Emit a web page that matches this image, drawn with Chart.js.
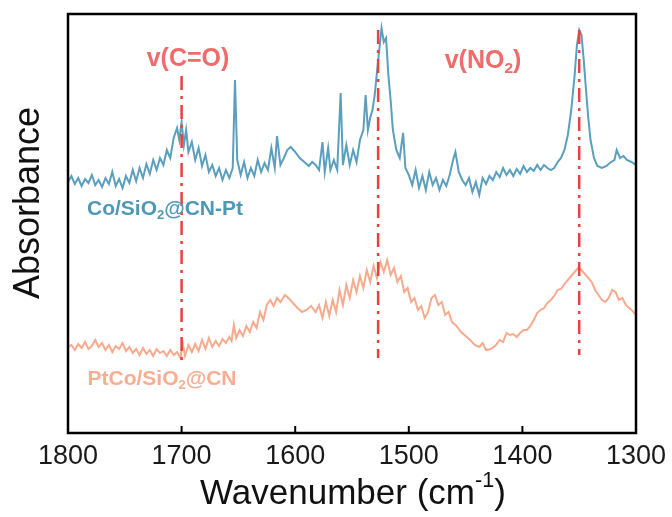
<!DOCTYPE html>
<html>
<head>
<meta charset="utf-8">
<script src="https://cdn.jsdelivr.net/npm/chart.js@4.4.1/dist/chart.umd.min.js"></script>
<style>
  html, body { margin: 0; padding: 0; background: #fff; }
  #wrap { width: 672px; height: 517px; }
</style>
</head>
<body>
<div id="wrap"><canvas id="irChart" width="672" height="517"></canvas></div>
<script>
// Co/SiO2@CN-Pt spectrum (wavenumber, absorbance a.u.)
const cnPtWn = [1800, 1797, 1794, 1791, 1788, 1785, 1782, 1779, 1776, 1773, 1770, 1767, 1764, 1761, 1758, 1755, 1752, 1749, 1746, 1743,
    1740, 1737, 1734, 1731, 1728, 1725, 1722, 1719, 1716, 1713, 1710, 1707, 1704, 1702, 1700, 1698, 1696, 1694, 1691, 1688,
    1685, 1682, 1679, 1676, 1673, 1670, 1667, 1664, 1661, 1658, 1655, 1653, 1651, 1648, 1645, 1642, 1639, 1636, 1633, 1630,
    1627, 1624, 1621, 1618, 1616, 1613, 1610, 1607, 1604, 1600, 1596, 1592, 1588, 1585, 1582, 1579, 1576, 1574, 1571, 1569,
    1566, 1563, 1560, 1558, 1555, 1552, 1549, 1546, 1543, 1540, 1538, 1536, 1534, 1532, 1530, 1528, 1526, 1524, 1522, 1520,
    1518, 1516, 1514, 1511, 1508, 1505, 1503, 1500, 1497, 1494, 1491, 1488, 1485, 1482, 1479, 1476, 1473, 1470, 1467, 1464,
    1461, 1459, 1456, 1453, 1450, 1447, 1444, 1441, 1438, 1435, 1432, 1429, 1426, 1423, 1420, 1417, 1414, 1411, 1408, 1405,
    1402, 1399, 1396, 1393, 1390, 1387, 1384, 1381, 1378, 1375, 1372, 1369, 1366, 1363, 1360, 1357, 1354, 1352, 1350, 1348,
    1346, 1344, 1342, 1340, 1337, 1334, 1330, 1326, 1322, 1319, 1317, 1314, 1311, 1308, 1304, 1300];
const cnPtAbs = [251, 257, 249, 255, 247, 254, 250, 258, 248, 253, 246, 255, 249, 261, 247, 254, 245, 257, 250, 263,
    252, 265, 255, 269, 259, 273, 263, 275, 268, 283, 275, 295, 305, 293, 311, 288, 303, 281, 291, 273,
    285, 267, 278, 261, 268, 257, 265, 253, 263, 255, 265, 353, 273, 258, 271, 255, 265, 257, 273, 261,
    270, 263, 285, 265, 297, 268, 275, 283, 286, 281, 275, 271, 267, 271, 268, 263, 291, 261, 285, 263,
    273, 263, 340, 268, 288, 268, 283, 271, 293, 303, 338, 303, 315, 323, 338, 361, 383, 405, 391, 395,
    358, 333, 303, 283, 275, 300, 265, 258, 248, 263, 245, 257, 243, 261, 248, 255, 243, 253, 247, 258,
    273, 281, 261, 253, 248, 255, 241, 251, 238, 255, 249, 257, 253, 261, 256, 265, 258, 263, 257, 264,
    259, 267, 261, 265, 262, 268, 263, 268, 265, 263, 265, 271, 275, 283, 298, 323, 358, 388, 403, 398,
    373, 343, 315, 293, 275, 267, 265, 267, 271, 273, 283, 275, 277, 273, 271, 268];

// PtCo/SiO2@CN spectrum
const ptCoWn = [1800, 1797, 1794, 1791, 1788, 1785, 1782, 1779, 1776, 1773, 1770, 1767, 1764, 1761, 1758, 1755, 1752, 1749, 1746, 1743,
    1740, 1737, 1734, 1731, 1728, 1725, 1722, 1719, 1716, 1713, 1710, 1707, 1704, 1701, 1699, 1697, 1694, 1691, 1688, 1685,
    1682, 1679, 1676, 1673, 1670, 1667, 1664, 1661, 1658, 1656, 1654, 1652, 1649, 1646, 1643, 1640, 1637, 1634, 1631, 1628,
    1625, 1622, 1619, 1616, 1613, 1609, 1606, 1602, 1598, 1594, 1590, 1586, 1582, 1579, 1576, 1573, 1570, 1567, 1564, 1561,
    1558, 1555, 1552, 1549, 1546, 1543, 1540, 1537, 1534, 1531, 1528, 1525, 1522, 1519, 1516, 1513, 1510, 1507, 1504, 1501,
    1498, 1495, 1492, 1489, 1486, 1483, 1480, 1477, 1474, 1471, 1468, 1465, 1462, 1458, 1454, 1450, 1446, 1442, 1438, 1435,
    1432, 1428, 1424, 1420, 1417, 1414, 1411, 1408, 1405, 1402, 1399, 1396, 1393, 1390, 1387, 1384, 1381, 1378, 1375, 1372,
    1369, 1366, 1363, 1360, 1357, 1354, 1351, 1348, 1345, 1342, 1339, 1336, 1333, 1330, 1327, 1324, 1321, 1318, 1315, 1312,
    1309, 1306, 1303, 1300];
const ptCoAbs = [86, 88, 83, 89, 85, 91, 84, 87, 93, 86, 90, 83, 88, 81, 87, 84, 90, 82, 86, 80,
    84, 78, 85, 79, 83, 77, 84, 80, 82, 77, 83, 78, 81, 75, 90, 77, 88, 81, 89, 82,
    93, 84, 95, 86, 92, 87, 94, 90, 96, 92, 108, 95, 103, 97, 107, 101, 111, 105, 121, 113,
    128, 133, 127, 135, 131, 138, 135, 130, 125, 121, 123, 127, 121, 128, 115, 131, 117, 133, 121, 143,
    128, 148, 135, 153, 141, 157, 145, 163, 151, 167, 155, 171, 161, 173, 158, 165, 151, 157, 141, 145,
    131, 135, 123, 127, 115, 121, 135, 138, 128, 131, 118, 121, 111, 107, 101, 97, 93, 88, 86, 90,
    83, 84, 87, 93, 91, 100, 98, 99, 96, 100, 103, 103, 107, 113, 120, 123, 125, 130, 133, 137,
    143, 144, 149, 153, 157, 161, 165, 163, 159, 155, 151, 143, 138, 133, 131, 135, 143, 141, 133, 135,
    128, 125, 122, 118];

// band markers: position and vertical extent
const bandPos = [1700, 1527, 1350];
const bandTop = [357, 403, 403];
const bandBottom = [70, 75, 78];

const xTickValues = [1800, 1700, 1600, 1500, 1400, 1300];

const FONT = '"Liberation Sans", Arial, sans-serif';
const BLUE = '#5a9fbd';
const ORANGE = '#f7ab8e';
const RED = '#e8413f';

function toPoints(xs, ys) {
    return xs.map(function (x, i) { return { x: x, y: ys[i] }; });
}

// draws a string made of normal / sub / sup pieces, centred on x
function drawRich(ctx, parts, x, y, size, weight, color) {
    ctx.save();
    ctx.fillStyle = color;
    ctx.textBaseline = 'middle';
    ctx.textAlign = 'left';
    const widths = parts.map(function (p) {
        const s = p.sub || p.sup ? size * 0.62 : size;
        ctx.font = weight + ' ' + s + 'px ' + FONT;
        return ctx.measureText(p.t).width;
    });
    let cx = x - widths.reduce(function (a, b) { return a + b; }, 0) / 2;
    parts.forEach(function (p, i) {
        const s = p.sub || p.sup ? size * 0.62 : size;
        ctx.font = weight + ' ' + s + 'px ' + FONT;
        let dy = 0;
        if (p.sub) dy = size * 0.32;
        if (p.sup) dy = -size * 0.36;
        ctx.fillText(p.t, cx, y + dy);
        cx += widths[i];
    });
    ctx.restore();
}

const framePlugin = {
    id: 'frame',
    afterDraw: function (chart) {
        const ctx = chart.ctx;
        const a = chart.chartArea;
        const xs = chart.scales.x;

        ctx.save();
        ctx.strokeStyle = '#000';
        ctx.lineWidth = 2.5;
        ctx.strokeRect(a.left, a.top, a.right - a.left, a.bottom - a.top);
        // inward tick marks
        ctx.lineWidth = 2;
        xTickValues.slice(1, -1).forEach(function (v) {
            const px = xs.getPixelForValue(v);
            ctx.beginPath();
            ctx.moveTo(px, a.bottom);
            ctx.lineTo(px, a.bottom - 7);
            ctx.stroke();
        });
        ctx.restore();

        // axis titles
        drawRich(ctx, [{ t: 'Wavenumber (cm' }, { t: '-1', sup: true }, { t: ')' }],
            353, 494, 35, 'normal', '#111');
        ctx.save();
        ctx.translate(29, 203);
        ctx.rotate(-Math.PI / 2);
        drawRich(ctx, [{ t: 'Absorbance' }], 0, 0, 36, 'normal', '#111');
        ctx.restore();

        // band and sample labels
        drawRich(ctx, [{ t: 'v(C=O)' }], 188, 59, 25, 'bold', '#f06b6b');
        drawRich(ctx, [{ t: 'v(NO' }, { t: '2', sub: true }, { t: ')' }], 483, 61, 25, 'bold', '#f06b6b');
        drawRich(ctx, [{ t: 'Co/SiO' }, { t: '2', sub: true }, { t: '@CN-Pt' }], 165, 209, 21, 'bold', '#4f98b5');
        drawRich(ctx, [{ t: 'PtCo/SiO' }, { t: '2', sub: true }, { t: '@CN' }], 162, 379, 21, 'bold', '#f7ad92');
    }
};

window.onload = function () {
    const bandSets = bandPos.map(function (p, i) {
        return {
            data: [{ x: p, y: bandTop[i] }, { x: p, y: bandBottom[i] }],
            borderColor: RED,
            borderWidth: 2.5,
            borderDash: [14, 6, 3, 6],
            pointRadius: 0,
            order: 0
        };
    });

    new Chart(document.getElementById('irChart'), {
        type: 'line',
        data: {
            datasets: [{
                label: 'Co/SiO2@CN-Pt',
                data: toPoints(cnPtWn, cnPtAbs),
                borderColor: BLUE,
                borderWidth: 2,
                pointRadius: 0,
                order: 2
            }, {
                label: 'PtCo/SiO2@CN',
                data: toPoints(ptCoWn, ptCoAbs),
                borderColor: ORANGE,
                borderWidth: 2,
                pointRadius: 0,
                order: 2
            }].concat(bandSets)
        },
        options: {
            responsive: false,
            animation: false,
            layout: {
                padding: { top: 14, right: 36, bottom: 0, left: 0 }
            },
            plugins: {
                legend: { display: false },
                tooltip: { enabled: false }
            },
            scales: {
                x: {
                    type: 'linear',
                    reverse: true,
                    min: 1300,
                    max: 1800,
                    afterFit: function (scale) {
                        scale.height = 84;
                        scale.paddingLeft = 0;
                        scale.paddingRight = 0;
                    },
                    afterBuildTicks: function (scale) {
                        scale.ticks = xTickValues.map(function (v) { return { value: v }; });
                    },
                    grid: { display: false, drawTicks: false },
                    border: { display: false },
                    ticks: {
                        padding: 7,
                        color: '#1a1a1a',
                        maxRotation: 0,
                        font: { family: FONT, size: 27 },
                        callback: function (v) { return String(v); }
                    }
                },
                y: {
                    min: 0,
                    max: 419,
                    afterFit: function (scale) { scale.width = 68; },
                    grid: { display: false, drawTicks: false },
                    border: { display: false },
                    ticks: { display: false }
                }
            }
        },
        plugins: [framePlugin]
    });
};
</script>
</body>
</html>
